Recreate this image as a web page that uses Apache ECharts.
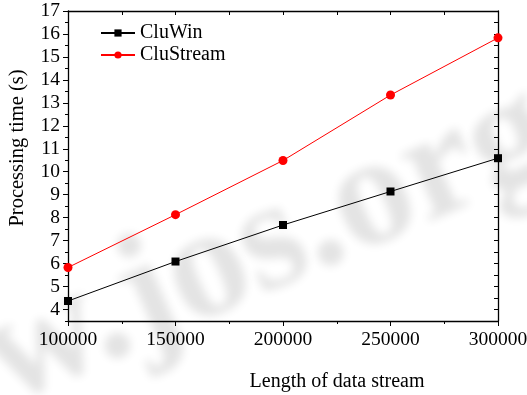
<!DOCTYPE html>
<html>
<head>
<meta charset="utf-8">
<script src="https://cdn.jsdelivr.net/npm/echarts@6/dist/echarts.min.js"></script>
<style>
  html, body { margin: 0; padding: 0; background: #fff; }
  #chart { width: 527px; height: 395px; }
</style>
</head>
<body>
<div id="chart"></div>
<script>
// Stream length (x) and processing time in seconds for each algorithm
const streamLengths = [100000, 150000, 200000, 250000, 300000];
const cluWinTimes = [4.37, 6.09, 7.68, 9.14, 10.59];
const cluStreamTimes = [5.83, 8.13, 10.49, 13.34, 15.83];

// Labelled (major) and unlabelled (minor) ticks on the time axis
const yMajorTicks = [4, 5, 6, 7, 8, 9, 10, 11, 12, 13, 14, 15, 16, 17];
const yMinorTicks = [3.5, 4.5, 5.5, 6.5, 7.5, 8.5, 9.5, 10.5, 11.5, 12.5, 13.5, 14.5, 15.5, 16.5];
const yAllTicks = yMajorTicks.concat(yMinorTicks);

const xTitle = 'Length of data stream';
const yTitle = 'Processing time (s)';
const watermarkText = 'w.jos.org';

const serif = '"Liberation Serif", "Times New Roman", serif';
const Y_MIN = 3.5, Y_MAX = 17;
const X_MIN = 100000, X_MAX = 300000;

const chart = echarts.init(document.getElementById('chart'), null, { renderer: 'canvas' });

const axisLine = { show: true, lineStyle: { color: '#000', width: 1.3 } };
// Only the blurred shadow of the watermark is drawn: the glyphs sit far off-canvas
const SHIFT = 3000;

chart.setOption({
  backgroundColor: '#fff',
  animation: false,
  grid: { left: 68, right: 29, top: 11, bottom: 74, outerBoundsMode: 'none', containLabel: false },
  legend: {
    orient: 'vertical',
    left: 100,
    top: 23,
    padding: 0,
    itemWidth: 34,
    itemHeight: 9,
    itemGap: 2,
    textStyle: { fontFamily: serif, fontSize: 20, color: '#000', lineHeight: 19 },
    data: ['CluWin', 'CluStream']
  },
  xAxis: [
    {
      type: 'value', position: 'bottom', min: X_MIN, max: X_MAX, interval: 50000,
      axisLine,
      axisTick: { show: true, inside: false, length: 5, lineStyle: { color: '#000', width: 1 } },
      minorTick: { show: true, splitNumber: 2, length: 3, lineStyle: { color: '#000', width: 1 } },
      axisLabel: {
        show: true, margin: 9, color: '#000', fontFamily: serif, fontSize: 19.5,
        formatter: (v) => String(v)
      },
      splitLine: { show: false }
    },
    {
      type: 'value', position: 'top', min: X_MIN, max: X_MAX, interval: 50000,
      axisLine,
      axisTick: { show: true, inside: true, length: 4, lineStyle: { color: '#000', width: 1 } },
      minorTick: { show: true, splitNumber: 2, length: 4, lineStyle: { color: '#000', width: 1 } },
      axisLabel: { show: false },
      splitLine: { show: false }
    }
  ],
  yAxis: [
    {
      type: 'value', position: 'left', min: Y_MIN, max: Y_MAX,
      axisLine,
      axisTick: { show: true, inside: false, length: 5, customValues: yMajorTicks, lineStyle: { color: '#000', width: 1 } },
      axisLabel: { show: true, margin: 8, customValues: yMajorTicks, color: '#000', fontFamily: serif, fontSize: 19.5 },
      splitLine: { show: false }
    },
    {
      type: 'value', position: 'left', min: Y_MIN, max: Y_MAX,
      axisLine: { show: false },
      axisTick: { show: true, inside: false, length: 3, customValues: yMinorTicks, lineStyle: { color: '#000', width: 1 } },
      axisLabel: { show: false },
      splitLine: { show: false }
    },
    {
      type: 'value', position: 'right', min: Y_MIN, max: Y_MAX,
      axisLine,
      axisTick: { show: true, inside: true, length: 4, customValues: yAllTicks, lineStyle: { color: '#000', width: 1 } },
      axisLabel: { show: false },
      splitLine: { show: false }
    }
  ],
  graphic: [
    {
      type: 'text', z: -10, silent: true,
      x: 22 - SHIFT, y: 440, rotation: 0.41,
      style: {
        text: watermarkText,
        font: 'bold 158px "Liberation Serif", serif',
        fill: '#000',
        textShadowBlur: 10,
        textShadowColor: 'rgba(0,0,0,0.11)',
        textShadowOffsetX: SHIFT,
        textShadowOffsetY: 0,
        textVerticalAlign: 'bottom'
      }
    },
    {
      type: 'text', x: 337, y: 382,
      style: { text: xTitle, font: '20px ' + serif, fill: '#000', textAlign: 'center', textVerticalAlign: 'middle' }
    },
    {
      type: 'text', x: 18, y: 148, rotation: Math.PI / 2,
      style: { text: yTitle, font: '20.5px ' + serif, fill: '#000', textAlign: 'center', textVerticalAlign: 'middle' }
    }
  ],
  series: [
    {
      name: 'CluWin', type: 'line', xAxisIndex: 0, yAxisIndex: 0,
      data: streamLengths.map((x, i) => [x, cluWinTimes[i]]),
      symbol: 'rect', symbolSize: 8,
      lineStyle: { color: '#000', width: 1 },
      itemStyle: { color: '#000' },
      z: 3
    },
    {
      name: 'CluStream', type: 'line', xAxisIndex: 0, yAxisIndex: 0,
      data: streamLengths.map((x, i) => [x, cluStreamTimes[i]]),
      symbol: 'circle', symbolSize: 9,
      lineStyle: { color: '#ff0000', width: 1 },
      itemStyle: { color: '#ff0000' },
      z: 3
    }
  ]
});
</script>
</body>
</html>
